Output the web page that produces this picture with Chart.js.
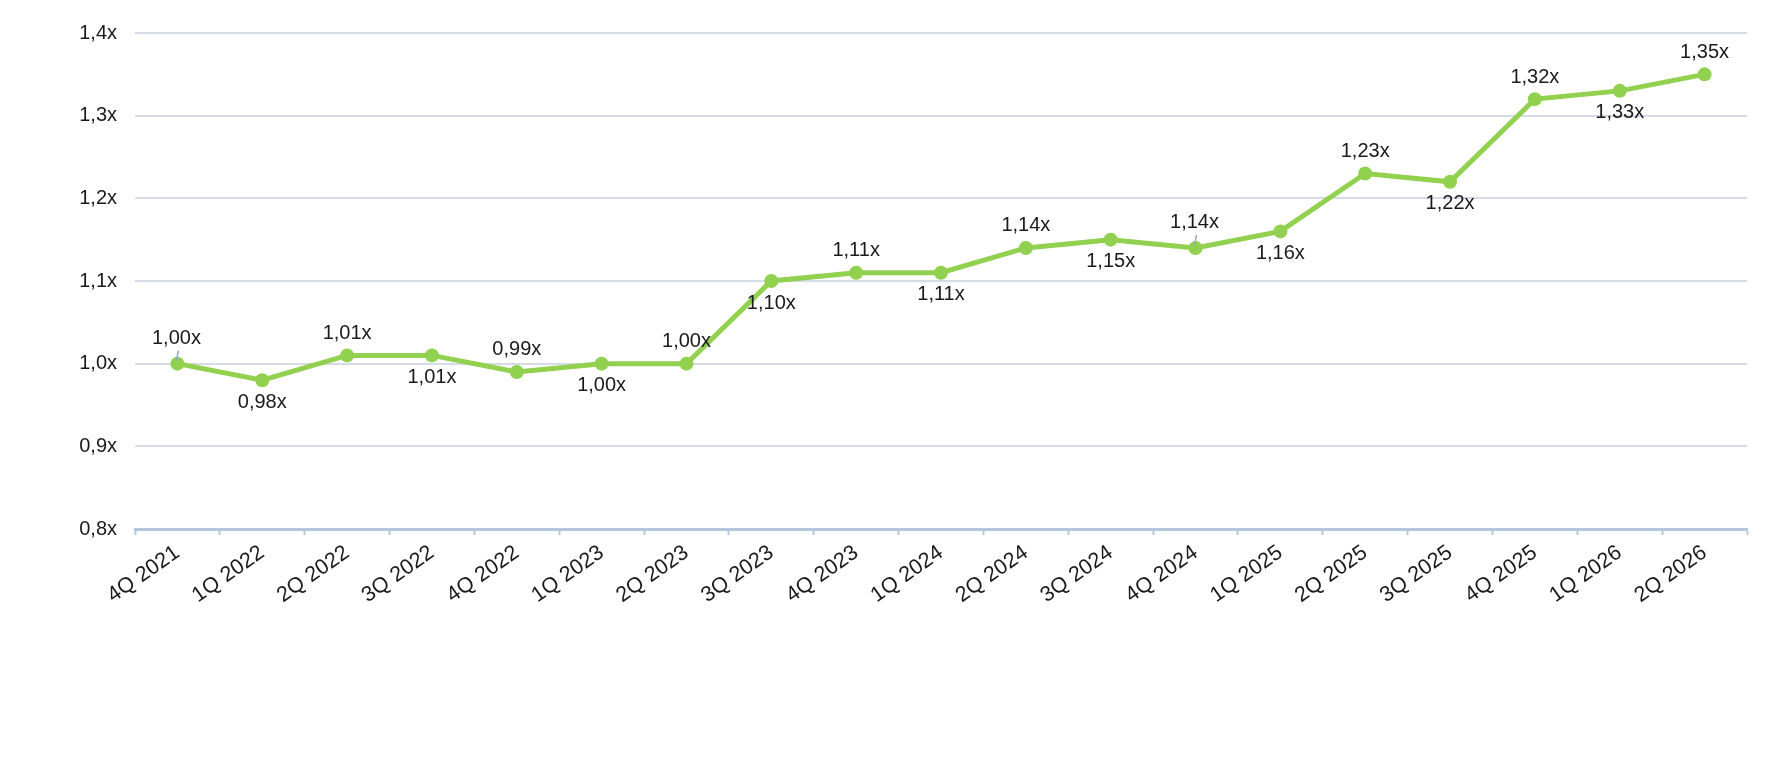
<!DOCTYPE html>
<html lang="en">
<head>
  <meta charset="UTF-8" />
  <title>Multiple trend</title>
  <script src="https://cdn.jsdelivr.net/npm/chart.js@4.4.1/dist/chart.umd.min.js"></script>
  <style>
    html, body {
      margin: 0;
      padding: 0;
      background: #ffffff;
    }
    #wrap {
      width: 1778px;
      height: 762px;
      position: relative;
    }
  </style>
</head>
<body>
  <div id="wrap">
    <canvas id="lineChart"></canvas>
  </div>

  <script>
    // ------------
    // DATA
    // ------------
    const quarters = [
      "4Q 2021", "1Q 2022", "2Q 2022", "3Q 2022", "4Q 2022",
      "1Q 2023", "2Q 2023", "3Q 2023", "4Q 2023", "1Q 2024",
      "2Q 2024", "3Q 2024", "4Q 2024", "1Q 2025", "2Q 2025",
      "3Q 2025", "4Q 2025", "1Q 2026", "2Q 2026"
    ];
    const multiples = [
      1.00, 0.98, 1.01, 1.01, 0.99,
      1.00, 1.00, 1.10, 1.11, 1.11,
      1.14, 1.15, 1.14, 1.16, 1.23,
      1.22, 1.32, 1.33, 1.35
    ];
    const yTicks = [0.8, 0.9, 1.0, 1.1, 1.2, 1.3, 1.4];

    // label placement: "up" above the point, "down" below it
    const labelSide = [
      "up", "down", "up", "down", "up",
      "down", "up", "down", "up", "down",
      "up", "down", "up", "down", "up",
      "down", "up", "down", "up"
    ];
    // labels that were drawn with a small leader line
    const leaderIdx = [0, 12];

    const FONT = "'Liberation Sans', Arial, sans-serif";
    const TEXT = "#1a1a1a";
    const GREEN = "#92D050";

    function fmt(v, digits) {
      return v.toFixed(digits).replace(".", ",") + "x";
    }

    // -------------------------------
    // VALUE LABELS (small inline plugin)
    // -------------------------------
    const valueLabels = {
      id: "valueLabels",
      afterDatasetsDraw(chart) {
        const ctx = chart.ctx;
        const meta = chart.getDatasetMeta(0);
        ctx.save();
        ctx.font = "20px " + FONT;
        ctx.fillStyle = TEXT;
        ctx.textAlign = "center";
        ctx.textBaseline = "middle";
        meta.data.forEach((pt, i) => {
          const up = labelSide[i] === "up";
          const hasLeader = leaderIdx.includes(i);
          const ty = up ? pt.y - (hasLeader ? 25 : 22) : pt.y + 22;
          const tx = hasLeader ? pt.x - 1 : pt.x;
          if (hasLeader) {
            ctx.strokeStyle = "#8EA9C8";
            ctx.lineWidth = 1.5;
            ctx.beginPath();
            ctx.moveTo(pt.x + 1, ty + 12);
            ctx.lineTo(pt.x - 1, pt.y - 3);
            ctx.stroke();
          }
          ctx.fillText(fmt(multiples[i], 2), tx, ty);
        });
        ctx.restore();
      }
    };

    // -------------------------------
    // CHART
    // -------------------------------
    const ctx = document.getElementById("lineChart").getContext("2d");
    new Chart(ctx, {
      type: "line",
      data: {
        labels: quarters,
        datasets: [
          {
            data: multiples,
            borderColor: GREEN,
            backgroundColor: GREEN,
            borderWidth: 5,
            pointRadius: 7,
            pointHoverRadius: 7,
            pointBackgroundColor: GREEN,
            pointBorderColor: GREEN,
            pointBorderWidth: 0,
            tension: 0,
          },
        ],
      },
      options: {
        responsive: true,
        maintainAspectRatio: false,
        animation: false,
        layout: {
          padding: { top: 33, right: 31, left: 0, bottom: 0 },
        },
        plugins: {
          legend: { display: false },
          tooltip: { enabled: false },
        },
        scales: {
          x: {
            offset: true,
            grid: {
              offset: true,
              drawOnChartArea: false,
              drawTicks: true,
              tickLength: 6,
              tickWidth: 2,
              tickColor: "#B4C6DC",
            },
            border: { display: true, color: "#B4C6DC", width: 3 },
            ticks: {
              color: TEXT,
              font: { family: FONT, size: 21.5 },
              maxRotation: 35,
              minRotation: 35,
              autoSkip: false,
              padding: 5,
            },
            afterFit(scale) {
              scale.height = 233;
            },
          },
          y: {
            min: 0.8,
            max: 1.4,
            afterBuildTicks(scale) {
              scale.ticks = yTicks.map((v) => ({ value: v }));
            },
            grid: {
              color: "#D3DCE8",
              lineWidth: 2,
              drawTicks: false,
            },
            border: { display: false },
            ticks: {
              color: TEXT,
              font: { family: FONT, size: 20 },
              padding: 18,
              callback: (v) => fmt(v, 1),
            },
            afterFit(scale) {
              scale.width = 135;
            },
          },
        },
      },
      plugins: [valueLabels],
    });
  </script>
</body>
</html>
